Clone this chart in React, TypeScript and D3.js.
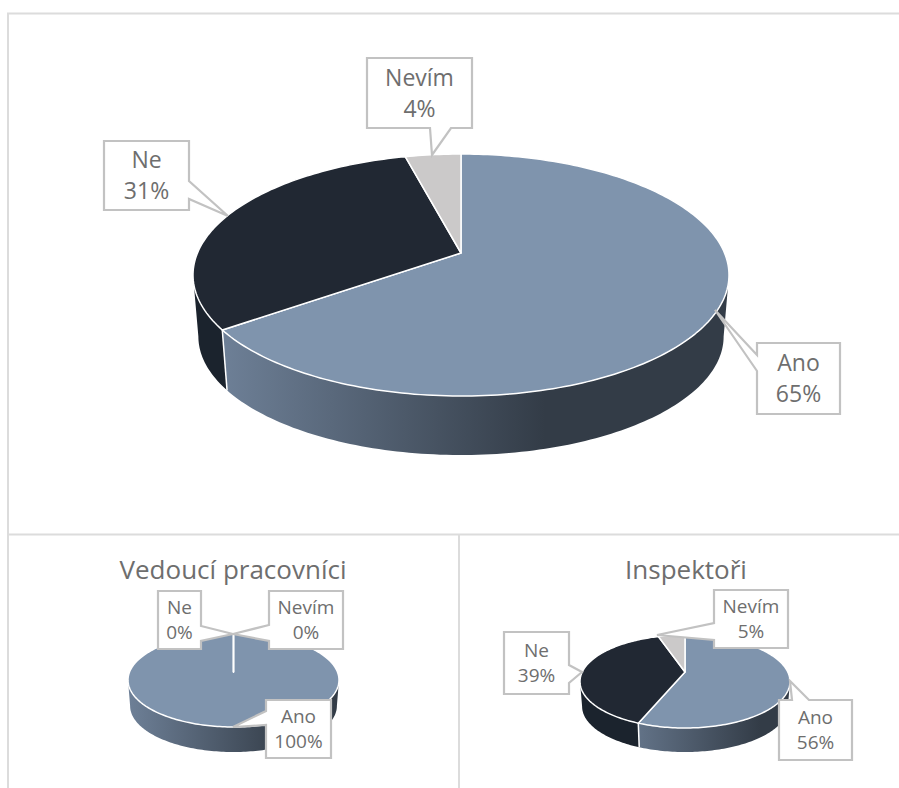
import React from "react";
import * as d3 from "d3";

// Survey answers, in drawing order
const categories = ["Ano", "Ne", "Nevím"];
const allStaffValues = [65, 31, 4];
const managerValues = [100, 0, 0];
const inspectorValues = [56, 39, 5];

const topColors = ["#7f94ad", "#212833", "#cbc9c9"];
const wallStops: [string, string][] = [
  ["#6d7f96", "#333c47"],
  ["#1b232d", "#1b232d"],
  ["#9d9b9b", "#8d8b8b"],
];

type Callout = { box: [number, number, number, number]; wedge: [number, number][] };
type PieSpec = {
  id: string;
  title?: string;
  titleX?: number;
  titleY?: number;
  values: number[];
  cx: number;
  apexY: number;
  topY: number;
  bottomY: number;
  halfWidth: number;
  depth: number;
  gradient: [number, number];
  font: number;
  lineGap: number;
  callouts: Callout[];
};

const pies: PieSpec[] = [
  {
    id: "all",
    values: allStaffValues,
    cx: 461, apexY: 253, topY: 154, bottomY: 396, halfWidth: 268, depth: 59,
    gradient: [225, 545], font: 23, lineGap: 31,
    callouts: [
      { box: [757, 343, 840, 414], wedge: [[757, 355], [715, 310], [757, 371]] },
      { box: [104, 141, 189, 210], wedge: [[189, 181], [228, 216], [189, 199]] },
      { box: [367, 58, 472, 128], wedge: [[430, 128], [432, 155], [451, 128]] },
    ],
  },
  {
    id: "managers",
    title: "Vedoucí pracovníci", titleX: 233, titleY: 579,
    values: managerValues,
    cx: 233.5, apexY: 672, topY: 633, bottomY: 727, halfWidth: 105.5, depth: 25,
    gradient: [130, 290], font: 19, lineGap: 25,
    callouts: [
      { box: [266, 700, 331, 758], wedge: [[266, 711], [233, 727], [266, 725]] },
      { box: [158, 591, 201, 649], wedge: [[201, 626], [233, 634], [201, 641]] },
      { box: [269, 591, 343, 649], wedge: [[269, 625], [233, 634], [269, 641]] },
    ],
  },
  {
    id: "inspectors",
    title: "Inspektoři", titleX: 686, titleY: 579,
    values: inspectorValues,
    cx: 685, apexY: 672, topY: 635, bottomY: 728, halfWidth: 105, depth: 24,
    gradient: [610, 760], font: 19, lineGap: 25,
    callouts: [
      { box: [779, 700, 852, 760], wedge: [[792, 700], [790, 681], [809, 700]] },
      { box: [504, 632, 569, 694], wedge: [[569, 665], [582, 672], [569, 683]] },
      { box: [714, 590, 788, 648], wedge: [[714, 623], [657, 635], [714, 640]] },
    ],
  },
];

const fontFamily = '"Open Sans", "Noto Sans", sans-serif';
const textColor = "#6e6e6e";
const calloutColor = "#c2c2c2";
const frameColor = "#dcdcdc";

// Perspective projection of a tilted disc: the far rim shrinks, so the centre
// sits above the middle of the drawn ellipse.
function makeProjection(p: PieSpec) {
  const up = p.apexY - p.topY;
  const down = p.bottomY - p.apexY;
  const k = (down - up) / (down + up);
  const s = up * (1 + k);
  const r = p.halfWidth * Math.sqrt(1 - k * k);
  const floorScale = 0.98;
  const at = (a: number, floor: boolean) => {
    const u = Math.sin(a);
    const v = Math.cos(a);
    const w = 1 + k * v;
    const f = floor ? floorScale : 1;
    const extra = floor ? p.bottomY + p.depth - (p.apexY + down * f) : 0;
    return [p.cx + (f * r * u) / w, p.apexY + extra - (f * s * v) / w] as [number, number];
  };
  // Angle at which the rim reaches its widest point on the right; the visible
  // side wall runs from here round the front to the mirrored angle.
  const wallStart = Math.acos(-k);
  return { at, wallStart, wallEnd: 2 * Math.PI - wallStart };
}

function samples(a0: number, a1: number) {
  const n = Math.max(2, Math.ceil(Math.abs(a1 - a0) / 0.02));
  return d3.range(n + 1).map((i) => a0 + ((a1 - a0) * i) / n);
}

const pathOf = d3.line<[number, number]>().x((d) => d[0]).y((d) => d[1]);

function Pie3D({ spec }: { spec: PieSpec }) {
  const { at, wallStart, wallEnd } = makeProjection(spec);
  const arcs = d3.pie<number>().sort(null).startAngle(0).endAngle(2 * Math.PI)(spec.values);
  return (
    <g>
      <defs>
        {wallStops.map((stops, i) => (
          <linearGradient
            key={i}
            id={`${spec.id}-wall-${i}`}
            gradientUnits="userSpaceOnUse"
            x1={spec.gradient[0]}
            x2={spec.gradient[1]}
            y1={0}
            y2={0}
          >
            <stop offset="0" stopColor={stops[0]} />
            <stop offset="1" stopColor={stops[1]} />
          </linearGradient>
        ))}
      </defs>
      {arcs.map((arc, i) => {
        const from = Math.max(arc.startAngle, wallStart);
        const to = Math.min(arc.endAngle, wallEnd);
        if (to - from < 1e-6) return null;
        const angles = samples(from, to);
        const top = angles.map((a) => at(a, false));
        const floor = angles.map((a) => at(a, true)).reverse();
        return <path key={i} d={pathOf([...top, ...floor]) + "Z"} fill={`url(#${spec.id}-wall-${i})`} />;
      })}
      {arcs.map((arc, i) => {
        const hasWidth = arc.endAngle - arc.startAngle > 1e-6;
        if (!hasWidth || arc.endAngle <= wallStart || arc.endAngle >= wallEnd) return null;
        const end = at(arc.endAngle, false);
        const endFloor = at(arc.endAngle, true);
        return (
          <line key={i} x1={end[0]} y1={end[1]} x2={endFloor[0]} y2={endFloor[1]} stroke="#ffffff" strokeWidth={1.5} />
        );
      })}
      {arcs.map((arc, i) => {
        const rim = samples(arc.startAngle, arc.endAngle).map((a) => at(a, false));
        const hub: [number, number] = [spec.cx, spec.apexY];
        return (
          <path
            key={i}
            d={pathOf([hub, ...rim]) + "Z"}
            fill={topColors[i]}
            stroke="#ffffff"
            strokeWidth={1.5}
            strokeLinejoin="round"
          />
        );
      })}
      {spec.title && (
        <text
          x={spec.titleX}
          y={spec.titleY}
          textAnchor="middle"
          fontFamily={fontFamily}
          fontSize={26}
          fill={textColor}
        >
          {spec.title}
        </text>
      )}
      {spec.callouts.map((c, i) => {
        const [x0, y0, x1, y1] = c.box;
        const outline = calloutPath(c);
        const mid = (x0 + x1) / 2;
        const centre = (y0 + y1) / 2;
        return (
          <g key={i}>
            <path d={outline} fill="#ffffff" stroke={calloutColor} strokeWidth={2.2} strokeLinejoin="miter" />
            <text textAnchor="middle" fontFamily={fontFamily} fontSize={spec.font} fill={textColor}>
              <tspan x={mid} y={centre - spec.lineGap / 2 + spec.font * 0.36}>{categories[i]}</tspan>
              <tspan x={mid} y={centre + spec.lineGap / 2 + spec.font * 0.36}>{`${spec.values[i]}%`}</tspan>
            </text>
          </g>
        );
      })}
    </g>
  );
}

// Rectangle outline with a pointer spliced into whichever side carries its base
function calloutPath(c: Callout) {
  const [x0, y0, x1, y1] = c.box;
  const [a, tip, b] = c.wedge;
  const corners: [number, number][] = [[x0, y0], [x1, y0], [x1, y1], [x0, y1]];
  const sideOf = (p: [number, number]) => {
    if (p[1] === y0) return 0;
    if (p[0] === x1) return 1;
    if (p[1] === y1) return 2;
    return 3;
  };
  const side = sideOf(a);
  const pts: [number, number][] = [];
  for (let i = 0; i < 4; i++) {
    pts.push(corners[i]);
    if (i === side) {
      const forward = side === 0 || side === 1 ? a[0] + a[1] <= b[0] + b[1] : a[0] + a[1] >= b[0] + b[1];
      pts.push(...(forward ? [a, tip, b] : [b, tip, a]));
    }
  }
  return pathOf(pts) + "Z";
}

export default function App() {
  const frame = "M8 788V13.5H899M8 534.5H899M459 534.5V788";
  return (
    <svg
      width={899}
      height={788}
      style={{ position: "absolute", left: 0, top: 0, display: "block", background: "#ffffff" }}
    >
      <path d={frame} fill="none" stroke={frameColor} strokeWidth={2} />
      {pies.map((p) => (
        <Pie3D key={p.id} spec={p} />
      ))}
    </svg>
  );
}
